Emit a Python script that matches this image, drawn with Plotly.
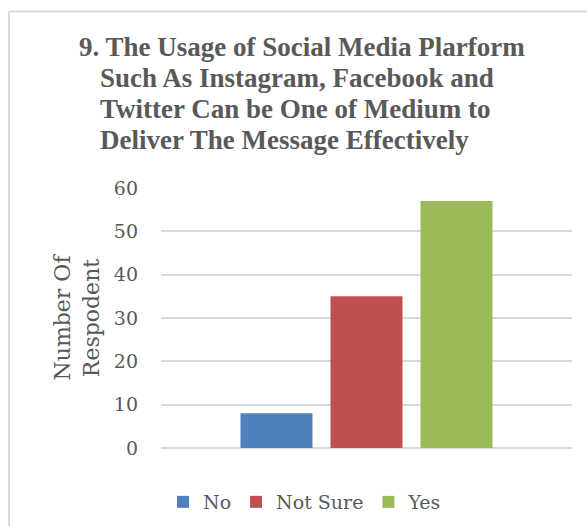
import plotly.graph_objects as go

# Survey responses for question 9
answers = ["No", "Not Sure", "Yes"]
respondents = [8, 35, 57]
bar_colors = ["#4F81BD", "#C0504D", "#9BBB59"]
question = ["Q9"]

y_ticks = [0, 10, 20, 30, 40, 50, 60]

title_first = "9. The Usage of Social Media Plarform"
title_rest = [
    "Such As Instagram, Facebook and",
    "Twitter Can be One of Medium to",
    "Deliver The Message Effectively",
]

W, H = 587, 526
L, R, T, B = 161, 15, 188, 78
plot_w = W - L - R
plot_h = H - T - B


def px_x(px):
    return (px - L) / plot_w


def px_y(py):
    return (H - B - py) / plot_h


text_gray = "#595959"
grid_gray = "#D9D9D9"
serif = "DejaVu Serif"

fig = go.Figure()
for name, val, col in zip(answers, respondents, bar_colors):
    fig.add_trace(go.Bar(
        x=question, y=[val], name=name,
        marker=dict(color=col, line=dict(width=0)),
    ))

fig.update_layout(
    width=W, height=H,
    margin=dict(l=L, r=R, t=T, b=B, autoexpand=False),
    paper_bgcolor="white", plot_bgcolor="white",
    barmode="group", bargap=0.343, bargroupgap=0.2,
    font=dict(family=serif, color=text_gray, size=19),
    showlegend=True,
    legend=dict(
        orientation="h", x=px_x(305), xanchor="center",
        y=px_y(502), yanchor="middle",
        font=dict(family=serif, size=19, color=text_gray),
        itemwidth=30,
    ),
)

fig.update_xaxes(showticklabels=False, showgrid=False, zeroline=False,
                 showline=False, ticks="")
fig.update_yaxes(
    range=[0, 60], tickvals=y_ticks, ticks="",
    showgrid=True, gridcolor=grid_gray, gridwidth=2,
    zeroline=True, zerolinecolor=grid_gray, zerolinewidth=2,
    showline=False, ticklabelstandoff=22,
    tickfont=dict(family=serif, size=19, color=text_gray),
    title=dict(text="Number Of<br>Respodent", standoff=8,
               font=dict(family=serif, size=22, color=text_gray)),
)

# Chart title with hanging indent after the item number
title_font = dict(family="Liberation Serif", size=27, color=text_gray)
fig.add_annotation(text="<b>" + title_first + "</b>", xref="paper", yref="paper",
                   x=px_x(77), y=px_y(47), xanchor="left", yanchor="middle",
                   showarrow=False, font=title_font)
for i, line in enumerate(title_rest):
    fig.add_annotation(text="<b>" + line + "</b>", xref="paper", yref="paper",
                       x=px_x(98), y=px_y(78 + 31 * i), xanchor="left",
                       yanchor="middle", showarrow=False, font=title_font)

# Chart area frame (left and top edges)
fig.add_shape(type="line", xref="paper", yref="paper",
              x0=px_x(9), x1=px_x(9), y0=px_y(11.5), y1=px_y(H + 5),
              line=dict(color=grid_gray, width=2))
fig.add_shape(type="line", xref="paper", yref="paper",
              x0=px_x(9), x1=px_x(W + 5), y0=px_y(11.5), y1=px_y(11.5),
              line=dict(color=grid_gray, width=2))

fig.write_html("out.html")
